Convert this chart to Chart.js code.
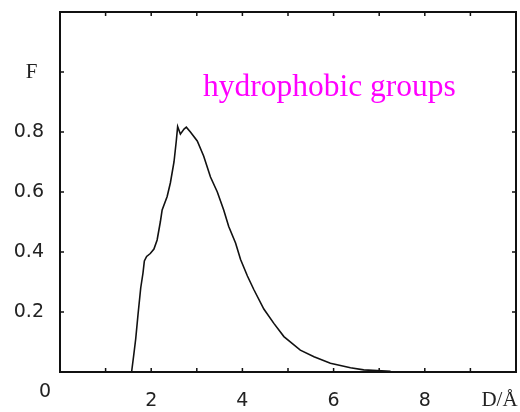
<!DOCTYPE html>
<html>
<head>
<meta charset="utf-8">
<script src="https://cdn.jsdelivr.net/npm/chart.js@4.4.1/dist/chart.umd.min.js"></script>
<style>
  html, body { margin: 0; padding: 0; background: #fff; }
  #wrap { width: 520px; height: 412px; }
</style>
</head>
<body>
<div id="wrap"><canvas id="myChart"></canvas></div>
<script>
// distance D (Å) and distribution F
var dist = [1.57, 1.62, 1.66, 1.71, 1.77, 1.82, 1.85, 1.90, 1.98, 2.06, 2.13, 2.20, 2.24, 2.35, 2.42, 2.50,
            2.55, 2.58, 2.64, 2.72, 2.77, 2.86, 3.01, 3.15, 3.30, 3.45, 3.59, 3.70, 3.85, 3.96, 4.11, 4.25,
            4.47, 4.69, 4.91, 5.27, 5.57, 5.93, 6.37, 6.66, 7.25];
var freq = [0.00, 0.06, 0.11, 0.19, 0.28, 0.33, 0.37, 0.385, 0.395, 0.41, 0.44, 0.50, 0.54, 0.585, 0.63, 0.70,
            0.77, 0.818, 0.793, 0.81, 0.816, 0.80, 0.77, 0.72, 0.65, 0.60, 0.54, 0.485, 0.43, 0.375, 0.32, 0.275,
            0.21, 0.162, 0.118, 0.073, 0.051, 0.029, 0.014, 0.007, 0.002];

var xLabels = [2, 4, 6, 8];
var yLabels = [0.2, 0.4, 0.6, 0.8];

var points = [];
dist.forEach(function (d, i) {
    points.push({ x: d, y: freq[i] });
});

// frame, inward ticks and the extra texts
var framePlugin = {
    id: "frame",
    afterDraw: function (chart) {
        var ctx = chart.ctx;
        var a = chart.chartArea;
        var xs = chart.scales.x;
        var ys = chart.scales.y;
        ctx.save();
        ctx.strokeStyle = "#111";
        ctx.lineWidth = 2;
        ctx.strokeRect(a.left, a.top, a.right - a.left, a.bottom - a.top);
        ctx.lineWidth = 1.5;
        ctx.beginPath();
        xs.ticks.forEach(function (t) {
            var px = xs.getPixelForValue(t.value);
            if (px <= a.left + 1 || px >= a.right - 1) return;
            ctx.moveTo(px, a.bottom); ctx.lineTo(px, a.bottom - 4);
            ctx.moveTo(px, a.top); ctx.lineTo(px, a.top + 4);
        });
        ys.ticks.forEach(function (t) {
            var py = ys.getPixelForValue(t.value);
            if (py <= a.top + 1 || py >= a.bottom - 1) return;
            ctx.moveTo(a.left, py); ctx.lineTo(a.left + 4, py);
            ctx.moveTo(a.right, py); ctx.lineTo(a.right - 4, py);
        });
        ctx.stroke();

        ctx.fillStyle = "#222";
        ctx.textAlign = "center";
        ctx.textBaseline = "middle";
        ctx.font = "21px 'Liberation Serif'";
        ctx.fillText("F", 31.5, ys.getPixelForValue(1.0));
        ctx.font = "19px 'DejaVu Sans'";
        ctx.fillText("0", 45, a.bottom + 20);
        ctx.textBaseline = "alphabetic";
        ctx.font = "21px 'Liberation Serif'";
        ctx.fillText("D/Å", 499.5, 406);

        ctx.fillStyle = "#ff00ff";
        ctx.textAlign = "left";
        ctx.font = "31.5px 'Liberation Serif'";
        ctx.fillText("hydrophobic groups", 203, 96);
        ctx.restore();
    }
};

var chart = new Chart(document.getElementById("myChart").getContext("2d"), {
    type: "line",
    data: {
        datasets: [{
            data: points,
            borderColor: "#111",
            borderWidth: 1.6,
            pointRadius: 0,
            fill: false,
            tension: 0
        }]
    },
    options: {
        responsive: true,
        maintainAspectRatio: false,
        animation: false,
        layout: { padding: { top: 12, right: 4, left: 0, bottom: 0 } },
        plugins: { legend: { display: false }, tooltip: { enabled: false } },
        scales: {
            x: {
                type: "linear",
                min: 0,
                max: 10,
                grid: { display: false },
                border: { display: false },
                afterFit: function (s) { s.height = 40; s.paddingLeft = 0; s.paddingRight = 0; },
                ticks: {
                    stepSize: 1,
                    autoSkip: false,
                    maxRotation: 0,
                    padding: 10,
                    color: "#222",
                    font: { family: "DejaVu Sans", size: 19 },
                    callback: function (v) {
                        return xLabels.indexOf(Math.round(v)) >= 0 ? String(Math.round(v)) : "";
                    }
                }
            },
            y: {
                min: 0,
                max: 1.2,
                grid: { display: false },
                border: { display: false },
                afterFit: function (s) { s.width = 60; s.paddingTop = 0; s.paddingBottom = 0; },
                ticks: {
                    stepSize: 0.2,
                    autoSkip: false,
                    padding: 8,
                    color: "#222",
                    font: { family: "DejaVu Sans", size: 19 },
                    callback: function (v) {
                        var r = Math.round(v * 10) / 10;
                        return yLabels.indexOf(r) >= 0 ? r.toFixed(1) : "";
                    }
                }
            }
        }
    },
    plugins: [framePlugin]
});
</script>
</body>
</html>
